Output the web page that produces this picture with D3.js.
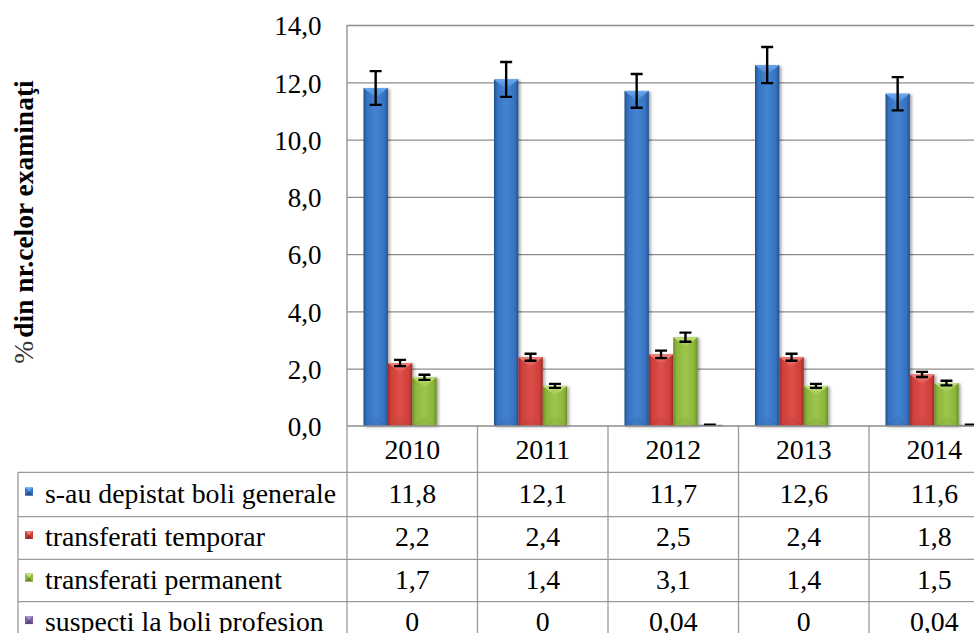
<!DOCTYPE html>
<html>
<head>
<meta charset="utf-8">
<script src="https://cdn.jsdelivr.net/npm/d3@7/dist/d3.min.js"></script>
<style>
  html, body { margin: 0; padding: 0; background: #fff; overflow: hidden; }
  svg { display: block; font-family: "Liberation Serif", "Times New Roman", serif; }
</style>
</head>
<body>
<svg id="chart" width="974" height="633"></svg>
<script>
// ---- data ----
const years = ["2010", "2011", "2012", "2013", "2014"];
const seriesNames = [
  "s-au depistat boli generale",
  "transferati temporar",
  "transferati permanent",
  "suspecti la boli profesion"
];
const generale  = [11.8, 12.1, 11.7, 12.6, 11.6];
const temporar  = [2.2, 2.4, 2.5, 2.4, 1.8];
const permanent = [1.7, 1.4, 3.1, 1.4, 1.5];
const profesion = [0, 0, 0.04, 0, 0.04];
// error bar half-widths per series
const errGenerale  = [0.59, 0.61, 0.59, 0.63, 0.58];
const errTemporar  = [0.11, 0.12, 0.13, 0.12, 0.09];
const errPermanent = [0.09, 0.07, 0.16, 0.07, 0.08];
const errProfesion = [0, 0, 0.002, 0, 0.002];
const yTicks = [0, 2, 4, 6, 8, 10, 12, 14];
const yTitle = "din nr.celor examinaţi";

const seriesValues = [generale, temporar, permanent, profesion];
const seriesErrors = [errGenerale, errTemporar, errPermanent, errProfesion];

// ---- styles ----
const palette = [
  { dark: "#23508f", mid: "#3672c0", light: "#4384d2", top: "#6aa8ee", bot: "#2a5a9c" },
  { dark: "#9b2b28", mid: "#cf403b", light: "#de4e49", top: "#f0827c", bot: "#a8332f" },
  { dark: "#6a8c24", mid: "#8cb63c", light: "#9dc54b", top: "#c2e07c", bot: "#76982b" },
  { dark: "#5c4580", mid: "#7a5e9e", light: "#8a6eae", top: "#aa94c9", bot: "#634a88" }
];

const svg = d3.select("#chart");
const W = 974, H = 633;

const plotLeft = 347, plotRight = 999.5, plotTop = 25, plotBottom = 426;
const tableLeft = 18;
const headerBottom = 472.3;
const rowEdges = [472.3, 516.7, 559.3, 601.7, 644.5];
const fontSize = 27.8;
const tickFontSize = 27;
const gridColor = "#8c8c8c";
const tableColor = "#9a9a9a";

const x = d3.scaleBand().domain(years).range([plotLeft, plotRight]).padding(0);
const xs = d3.scaleBand().domain(d3.range(seriesNames.length))
  .range([0, x.bandwidth()]).paddingInner(0).paddingOuter(0.675);
const y = d3.scaleLinear().domain([0, 14]).range([plotBottom, plotTop]);

const comma = v => String(v).replace(".", ",");
const tickFmt = v => d3.format(".1f")(v).replace(".", ",");

// gradients and shadow
const defs = svg.append("defs");
palette.forEach((p, i) => {
  const g = defs.append("linearGradient").attr("id", "grad" + i)
    .attr("x1", 0).attr("x2", 1).attr("y1", 0).attr("y2", 0);
  [[0, p.dark], [0.14, p.mid], [0.5, p.light], [0.86, p.mid], [1, p.dark]]
    .forEach(([o, c]) => g.append("stop").attr("offset", o).attr("stop-color", c));
  const t = defs.append("linearGradient").attr("id", "top" + i)
    .attr("x1", 0).attr("x2", 0).attr("y1", 0).attr("y2", 1);
  t.append("stop").attr("offset", 0).attr("stop-color", p.top);
  t.append("stop").attr("offset", 1).attr("stop-color", p.light);
});
const shadow = defs.append("filter").attr("id", "shadow")
  .attr("x", "-20%").attr("y", "-5%").attr("width", "150%").attr("height", "115%");
shadow.append("feDropShadow").attr("dx", 2).attr("dy", 1)
  .attr("stdDeviation", 1.4).attr("flood-color", "#000").attr("flood-opacity", 0.35);

// ---- gridlines & y axis ----
const yAxis = d3.axisLeft(y).tickValues(yTicks).tickFormat(tickFmt)
  .tickSize(-(plotRight - plotLeft)).tickPadding(25.5);
const gy = svg.append("g").attr("transform", `translate(${plotLeft},0)`).call(yAxis);
gy.attr("font-family", null).attr("font-size", null);
gy.select(".domain").remove();
gy.selectAll(".tick line").attr("stroke", gridColor).attr("stroke-width", 1.3)
  .filter(d => d === 0).remove();
gy.selectAll(".tick text").attr("font-size", tickFontSize).attr("fill", "#000")
  .attr("dy", "0.36em");

// y title
svg.append("text")
  .attr("transform", "translate(33,222) rotate(-90)")
  .attr("text-anchor", "middle")
  .attr("font-size", 27.5)
  .attr("font-weight", "bold")
  .attr("fill", "#000")
  .call(t => {
    t.append("tspan").attr("font-weight", "normal").attr("fill", "#333").text("%");
    t.append("tspan").attr("dx", 3).text(yTitle);
  });

// ---- bars ----
const barsG = svg.append("g");
seriesValues.forEach((vals, si) => {
  const w = xs.bandwidth();
  const g = barsG.append("g");
  years.forEach((yr, i) => {
    const v = vals[i];
    if (v <= 0) return;
    const bx = x(yr) + xs(si);
    const by = y(v);
    const bh = y(0) - by;
    const bar = g.append("g").attr("filter", "url(#shadow)");
    bar.append("rect").attr("x", bx).attr("y", by).attr("width", w).attr("height", bh)
      .attr("fill", `url(#grad${si})`);
    const depth = Math.min(w * 0.4, bh / 2);
    if (bh > 3) {
      bar.append("path")
        .attr("d", `M${bx},${by}L${bx + w},${by}L${bx + w / 2},${by + depth}Z`)
        .attr("fill", `url(#top${si})`);
      bar.append("path")
        .attr("d", `M${bx},${y(0)}L${bx + w},${y(0)}L${bx + w / 2},${y(0) - depth}Z`)
        .attr("fill", palette[si].bot).attr("opacity", 0.18);
    }
  });
});

// ---- error bars ----
const errG = svg.append("g").attr("stroke", "#000").attr("stroke-width", 2.4).attr("fill", "none");
seriesValues.forEach((vals, si) => {
  years.forEach((yr, i) => {
    const v = vals[i];
    if (v <= 0) return;
    const e = seriesErrors[si][i];
    const cx = x(yr) + xs(si) + xs.bandwidth() / 2;
    const y1 = y(v + e), y2 = y(v - e);
    const cap = 6;
    errG.append("path")
      .attr("d", `M${cx},${y1}V${y2}M${cx - cap},${y1}H${cx + cap}M${cx - cap},${y2}H${cx + cap}`);
  });
});

// ---- axis line and data table ----
const lines = svg.append("g").attr("stroke-width", 1.3).attr("fill", "none");
lines.append("line").attr("x1", plotLeft).attr("x2", plotLeft)
  .attr("y1", plotTop).attr("y2", plotBottom).attr("stroke", gridColor);
lines.append("line").attr("x1", plotLeft).attr("x2", W + 30)
  .attr("y1", plotBottom).attr("y2", plotBottom).attr("stroke", gridColor);
// vertical separators between categories
years.concat(["end"]).forEach((yr, i) => {
  const xx = i < years.length ? x(yr) : plotRight;
  lines.append("line").attr("x1", xx).attr("x2", xx)
    .attr("y1", plotBottom).attr("y2", H + 10).attr("stroke", tableColor);
});
// legend column left border
lines.append("line").attr("x1", tableLeft).attr("x2", tableLeft)
  .attr("y1", headerBottom).attr("y2", H + 10).attr("stroke", tableColor);
// horizontal row lines
rowEdges.forEach(ry => {
  lines.append("line").attr("x1", tableLeft).attr("x2", W + 30)
    .attr("y1", ry).attr("y2", ry).attr("stroke", tableColor);
});

// header years
svg.append("g").selectAll("text").data(years).join("text")
  .attr("x", d => x(d) + x.bandwidth() / 2)
  .attr("y", (plotBottom + headerBottom) / 2)
  .attr("dy", "0.34em")
  .attr("text-anchor", "middle")
  .attr("font-size", fontSize)
  .text(d => d);

// rows: legend key + name + values
seriesNames.forEach((name, si) => {
  const cy = (rowEdges[si] + rowEdges[si + 1]) / 2;
  const row = svg.append("g");
  const k = 8, kx = 25, ky = cy - 3 - k / 2;
  row.append("rect").attr("x", kx).attr("y", ky).attr("width", k).attr("height", k)
    .attr("fill", palette[si].mid);
  row.append("path").attr("d", `M${kx},${ky}L${kx + k},${ky}L${kx + k / 2},${ky + k / 2}Z`)
    .attr("fill", palette[si].top);
  row.append("path").attr("d", `M${kx},${ky + k}L${kx + k},${ky + k}L${kx + k / 2},${ky + k / 2}Z`)
    .attr("fill", palette[si].dark);
  row.append("text").attr("x", 45).attr("y", cy).attr("dy", "0.3em")
    .attr("font-size", fontSize).text(name);
  row.selectAll("text.val").data(seriesValues[si]).join("text")
    .attr("class", "val")
    .attr("x", (d, i) => x(years[i]) + x.bandwidth() / 2)
    .attr("y", cy).attr("dy", "0.3em")
    .attr("text-anchor", "middle")
    .attr("font-size", fontSize)
    .text(d => comma(d));
});
</script>
</body>
</html>
